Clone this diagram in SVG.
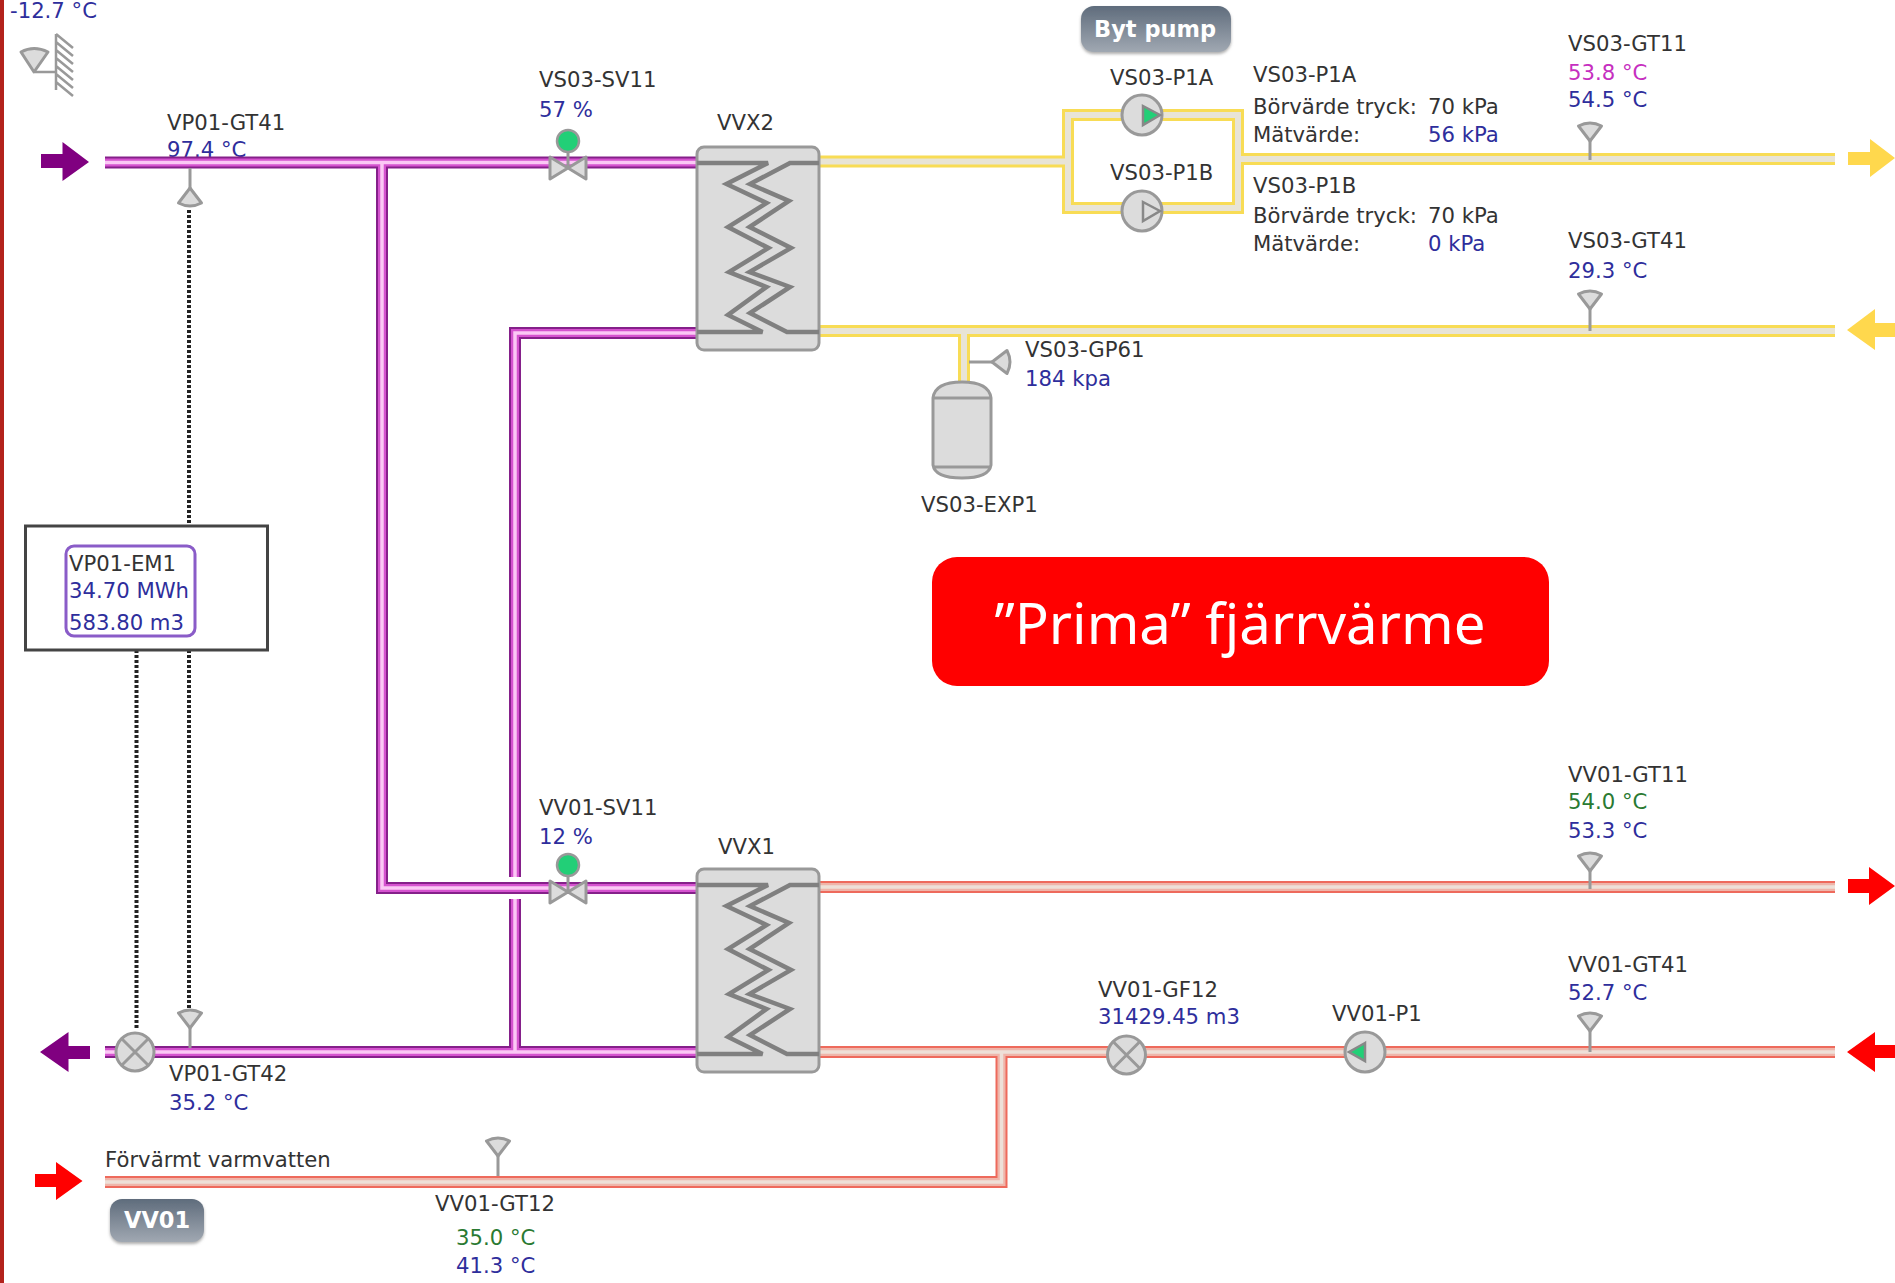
<svg xmlns="http://www.w3.org/2000/svg" width="1895" height="1283" viewBox="0 0 1895 1283">
<style>
text{font-family:"DejaVu Sans","Liberation Sans",sans-serif;font-size:21.2px;fill:#333;transform:translate(0,.5px)}
.b{fill:#2e2e9c}.m{fill:#c62fc0}.g{fill:#2a7a32}
.btn{font-weight:bold;fill:#fff;font-size:22.500px}
.sym{fill:#dcdcdc;stroke:#999;stroke-width:3;stroke-linejoin:round}
.stem{fill:none;stroke:#999;stroke-width:3}
.x{fill:none;stroke:#999;stroke-width:3}
.dot{fill:none;stroke:#222;stroke-width:4;stroke-dasharray:3 2}
.coil{fill:none;stroke:#808080;stroke-width:4.500;stroke-linejoin:miter}
.p{fill:none;stroke-linejoin:miter}
.w1{stroke-width:12}.w2{stroke-width:8}.w3{stroke-width:3.500}
</style>
<defs>
<linearGradient id="btnG" x1="0" y1="0" x2="0" y2="1"><stop offset="0" stop-color="#5f6c7c"/><stop offset="1" stop-color="#a0a8b2"/></linearGradient>
<filter id="sh" x="-10%" y="-10%" width="120%" height="130%"><feDropShadow dx="0" dy="2" stdDeviation="1.500" flood-color="#777" flood-opacity=".6"/></filter>
<path id="sensor" class="sym" d="M0,0 L-11.500,-15 Q0,-21 11.500,-15 Z"/>
<path id="purplePipes" d="M105,162.500H697M382,162.500V888H697M697,333H515V877M515,899V1052M105,1052H697"/>
<path id="yellowPipes" d="M820,161.500H1068M1068,115H1238V208H1068ZM1238,159H1835M820,331H1835M964,331V382"/>
<path id="redPipes" d="M819,887H1835M819,1052H1835M1001.500,1052V1182H105"/>
<g id="hx">
<rect class="sym" x="697" y="147" width="122" height="203" rx="7"/>
<path class="coil" d="M697,163H768L726.500,184L766.500,203L728,227L768.500,248L729,272L766.500,287L728,315L762.500,332H697"/>
<path class="coil" d="M819,163H790L750,184L789,201L749.500,227L791,248L749.500,272L790,287L750,313L787,332H819"/>
</g>
<g id="valve">
<path class="sym" d="M-18,-11L0,0L-18,11ZM18,-11L0,0L18,11Z"/>
</g>
<g id="meter">
<circle class="sym" r="19"/>
<path class="x" d="M-13.500,-13.500L13.500,13.500M13.500,-13.500L-13.500,13.500"/>
</g>
</defs>
<rect width="1895" height="1283" fill="#fff"/>
<rect id="edge" width="4" height="1283" fill="#b3221c"/>
<g id="VP01-GT41-label"><text x="167" y="129">VP01-GT41</text><text class="b" x="167" y="156">97.4 °C</text></g>
<g id="connectors">
<use href="#purplePipes" class="p w1" stroke="#85208a"/>
<use href="#purplePipes" class="p w2" stroke="#d553cf"/>
<use href="#purplePipes" class="p w3" stroke="#fbc8f5"/>
<use href="#yellowPipes" class="p w1" stroke="#f8dc55"/>
<use href="#yellowPipes" class="p w3" stroke="#e8e4d6" style="stroke-width:6"/>
<use href="#redPipes" class="p w1" stroke="#ee6a5c"/>
<use href="#redPipes" class="p w2" stroke="#efb5aa"/>
<use href="#redPipes" class="p w3" stroke="#eee0d8"/>
<path class="dot" d="M189,210V525M136.500,650V1030M189,650V1010"/>
</g>
<g id="flow-arrows">
<path fill="#800080" d="M41,154H62.500V142L89,162L62.500,181V168H41Z"/>
<path fill="#800080" d="M40,1052L68.500,1032V1046H90V1059H68.500V1072Z"/>
<path fill="#ffd84d" d="M1848,152H1870V139L1895,158L1870,177V165H1848Z"/>
<path fill="#ffd84d" d="M1847,330L1875,309V323H1895V337H1875V350Z"/>
<path fill="#f00" d="M1848,879H1869V867L1895,886L1869,905V893H1848Z"/>
<path fill="#f00" d="M1847,1052L1875,1032V1045H1895V1058H1875V1072Z"/>
<path fill="#f00" d="M35,1174H56V1162L82.500,1181L56,1200V1187H35Z"/>
</g>
<g id="VP01-GT31"><text class="b" x="10" y="17">-12.7 °C</text>
<path class="sym" d="M34,72L21,52Q34,45 48,52Z"/>
<path class="stem" d="M35,72H56M56,34V90M56,34L73,48M56,42L73,56M56,50L73,64M56,58L73,72M56,66L73,80M56,74L73,88M56,82L73,96" style="stroke-width:2.500"/>
</g>
<g id="VP01-GT41"><path class="stem" d="M190,168V190"/><use href="#sensor" transform="translate(190,188) rotate(180)"/></g>
<g id="VS03-SV11"><text x="539" y="86">VS03-SV11</text><text class="b" x="539" y="116">57 %</text>
<path class="stem" d="M568,152V168"/><circle cx="568" cy="141" r="11" fill="#22cf77" stroke="#999" stroke-width="2.500"/><use href="#valve" x="568" y="168"/></g>
<g id="VVX2"><text x="717" y="129">VVX2</text><use href="#hx"/></g>
<g id="byt-pump"><rect x="1081" y="6" width="150" height="46" rx="13" fill="url(#btnG)" filter="url(#sh)"/><text class="btn" x="1094" y="36">Byt pump</text></g>
<g id="VS03-P1A"><text x="1110" y="84">VS03-P1A</text><circle class="sym" cx="1142" cy="115" r="20"/><path d="M1143,106L1160,115L1143,125Z" fill="#22cf77" stroke="#888" stroke-width="2.500"/>
<text x="1253" y="81">VS03-P1A</text><text x="1253" y="113">Börvärde tryck:</text><text x="1428" y="113">70 kPa</text><text x="1253" y="141">Mätvärde:</text><text class="b" x="1428" y="141">56 kPa</text></g>
<g id="VS03-P1B"><text x="1110" y="179">VS03-P1B</text><circle class="sym" cx="1142" cy="211" r="20"/><path d="M1143,202L1160,211L1143,221Z" fill="#dcdcdc" stroke="#888" stroke-width="2.500"/>
<text x="1253" y="192">VS03-P1B</text><text x="1253" y="222">Börvärde tryck:</text><text x="1428" y="222">70 kPa</text><text x="1253" y="250">Mätvärde:</text><text class="b" x="1428" y="250">0 kPa</text></g>
<g id="VS03-GT11"><text x="1568" y="50">VS03-GT11</text><text class="m" x="1568" y="79">53.8 °C</text><text class="b" x="1568" y="106">54.5 °C</text><path class="stem" d="M1590,140V160"/><use href="#sensor" x="1590" y="141"/></g>
<g id="VS03-GT41"><text x="1568" y="247">VS03-GT41</text><text class="b" x="1568" y="277">29.3 °C</text><path class="stem" d="M1590,308V331"/><use href="#sensor" x="1590" y="309"/></g>
<g id="VS03-GP61"><text x="1025" y="356">VS03-GP61</text><text class="b" x="1025" y="385">184 kpa</text><path class="stem" d="M969,362H992"/><use href="#sensor" transform="translate(992,362) rotate(90)"/></g>
<g id="VS03-EXP1"><path class="sym" d="M933,398Q935,382 962,382Q989,382 991,398V465Q989,478 962,478Q935,478 933,465Z"/><path class="x" d="M933,398H991M933,467H991"/><text x="921" y="511">VS03-EXP1</text></g>
<g id="VP01-EM1"><rect x="25.500" y="526" width="242" height="124" fill="#fff" stroke="#444" stroke-width="3"/><rect x="66" y="546" width="129" height="90" rx="8" fill="#fff" stroke="#8a5cc8" stroke-width="3"/>
<text x="69" y="570">VP01-EM1</text><text class="b" x="69" y="597">34.70 MWh</text><text class="b" x="69" y="629">583.80 m3</text></g>
<g id="prima"><rect x="932" y="557" width="617" height="129" rx="25" fill="#f00"/><text x="994.500" y="643" textLength="491" lengthAdjust="spacingAndGlyphs" style="font-family:'Noto Sans','Liberation Sans',sans-serif;font-size:56px;fill:#fff">”Prima” fjärrvärme</text></g>
<g id="VV01-SV11"><text x="539" y="814">VV01-SV11</text><text class="b" x="539" y="843">12 %</text><path class="stem" d="M568,876V892"/><circle cx="568" cy="865" r="11" fill="#22cf77" stroke="#999" stroke-width="2.500"/><use href="#valve" x="568" y="892"/></g>
<g id="VVX1"><text x="718" y="853">VVX1</text><use href="#hx" x="0" y="722"/></g>
<g id="VV01-GT11"><text x="1568" y="781">VV01-GT11</text><text class="g" x="1568" y="808">54.0 °C</text><text class="b" x="1568" y="837">53.3 °C</text><path class="stem" d="M1590,870V889"/><use href="#sensor" x="1590" y="871"/></g>
<g id="VV01-GT41"><text x="1568" y="971">VV01-GT41</text><text class="b" x="1568" y="999">52.7 °C</text><path class="stem" d="M1590,1030V1052"/><use href="#sensor" x="1590" y="1031"/></g>
<g id="VV01-P1"><text x="1332" y="1020">VV01-P1</text><circle class="sym" cx="1365" cy="1052" r="20"/><path d="M1365,1043L1349,1052L1365,1061Z" fill="#22cf77" stroke="#888" stroke-width="2.500"/></g>
<g id="VV01-GF12"><text x="1098" y="996">VV01-GF12</text><text class="b" x="1098" y="1023">31429.45 m3</text><use href="#meter" x="1126.500" y="1055"/></g>
<g id="VP01-GF"><use href="#meter" x="135" y="1052"/></g>
<g id="VP01-GT42"><text x="169" y="1080">VP01-GT42</text><text class="b" x="169" y="1109">35.2 °C</text><path class="stem" d="M190,1027V1048"/><use href="#sensor" x="190" y="1028"/></g>
<g id="VV01-GT12"><text x="105" y="1166">Förvärmt varmvatten</text><text x="435" y="1210">VV01-GT12</text><text class="g" x="456" y="1244">35.0 °C</text><text class="b" x="456" y="1272">41.3 °C</text><path class="stem" d="M498,1155V1176"/><use href="#sensor" x="498" y="1156"/></g>
<g id="vv01-btn"><rect x="110" y="1199" width="94" height="43" rx="12" fill="url(#btnG)" filter="url(#sh)"/><text class="btn" x="124" y="1227">VV01</text></g>
</svg>
